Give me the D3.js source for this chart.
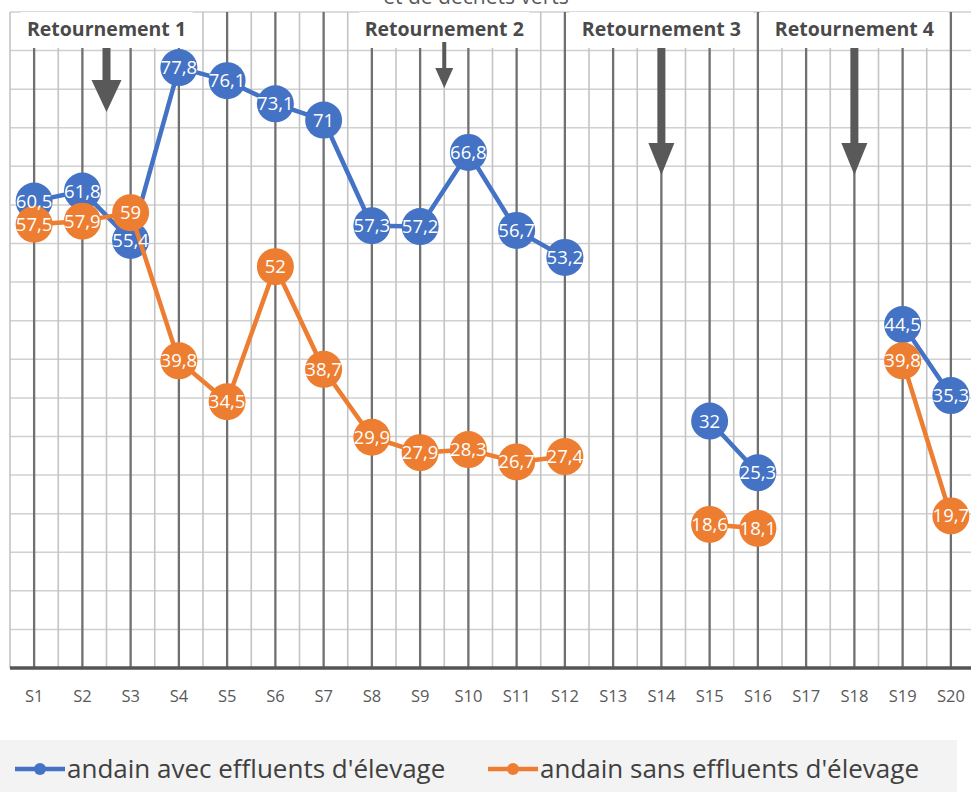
<!DOCTYPE html>
<html>
<head>
<meta charset="utf-8">
<script src="https://cdn.jsdelivr.net/npm/d3@7"></script>
<style>
  html, body { margin: 0; padding: 0; background: #ffffff; }
  svg { display: block; font-family: "Open Sans", Lato, sans-serif; }
</style>
</head>
<body>
<svg id="chart" width="971" height="792"></svg>
<script>
// Weeks of composting
const weeks = ["S1","S2","S3","S4","S5","S6","S7","S8","S9","S10",
               "S11","S12","S13","S14","S15","S16","S17","S18","S19","S20"];

// Windrow temperature series (null = no measurement)
const avecEffluents = [60.5, 61.8, 55.4, 77.8, 76.1, 73.1, 71, 57.3, 57.2, 66.8,
                       56.7, 53.2, null, null, 32, 25.3, null, null, 44.5, 35.3];
const sansEffluents = [57.5, 57.9, 59, 39.8, 34.5, 52, 38.7, 29.9, 27.9, 28.3,
                       26.7, 27.4, null, null, 18.6, 18.1, null, null, 39.8, 19.7];

const seriesNames = ["andain avec effluents d'élevage", "andain sans effluents d'élevage"];

// Turning events, expressed in weeks (2.5 = between S2 and S3)
const turnLabels = ["Retournement 1", "Retournement 2", "Retournement 3", "Retournement 4"];
const turnWeeks = [2.5, 9.5, 14, 18];

const yTicks = d3.range(0, 86, 5);

const svg = d3.select("#chart");
const W = 971, H = 792;
const plot = { left: 10, right: 975, top: 12, bottom: 668 };

const x = d3.scaleBand().domain(weeks).range([plot.left, plot.right]).padding(0);
const y = d3.scaleLinear().domain([0, 85]).range([plot.bottom, plot.top]);
const cx = w => x(w) + x.bandwidth() / 2;
// position for a fractional week number
const wx = t => plot.left + (t - 0.5) * x.bandwidth();

const blue = "#4472C4", orange = "#ED7D31";

// title (last line, partly above the frame)
svg.append("text").attr("x", 476).attr("y", 4).attr("text-anchor", "middle")
  .attr("font-size", 21).attr("fill", "#595959").text("et de déchets verts");

// horizontal gridlines
svg.append("g").selectAll("line").data(yTicks.filter(d => d > 0)).join("line")
  .attr("x1", plot.left).attr("x2", W).attr("y1", d => y(d)).attr("y2", d => y(d))
  .attr("stroke", "#d0d0d0").attr("stroke-width", 1.5);

// light vertical lines at week boundaries
svg.append("g").selectAll("line").data(d3.range(0, weeks.length + 1)).join("line")
  .attr("x1", i => plot.left + i * x.bandwidth()).attr("x2", i => plot.left + i * x.bandwidth())
  .attr("y1", plot.top).attr("y2", plot.bottom)
  .attr("stroke", "#c4c4c4").attr("stroke-width", 1.6);

// dark vertical lines at week centres
svg.append("g").selectAll("line").data(weeks).join("line")
  .attr("x1", cx).attr("x2", cx).attr("y1", plot.top).attr("y2", plot.bottom)
  .attr("stroke", "#707070").attr("stroke-width", 2.3);

// x axis
const xAxis = d3.axisBottom(x).tickSize(0).tickPadding(22);
const gx = svg.append("g").attr("transform", `translate(0,${plot.bottom})`).call(xAxis);
gx.select(".domain").attr("stroke", "#555").attr("stroke-width", 3.5)
  .attr("d", `M${plot.left},0H${W}`);
gx.selectAll("text").attr("font-size", 16.5).attr("fill", "#595959")
  .attr("font-family", "'Open Sans', sans-serif");

// turning annotation boxes
const boxW = [172, 170, 184, 188];
const arrowStyle = [
  { top: 48, tip: 112, shaft: 8, head: 30, headLen: 32 },
  { top: 42, tip: 88, shaft: 4, head: 18, headLen: 20 },
  { top: 48, tip: 175, shaft: 8, head: 26, headLen: 32 },
  { top: 48, tip: 175, shaft: 8, head: 26, headLen: 32 }
];
const ann = svg.append("g");
turnWeeks.forEach((t, i) => {
  const ax = wx(t);
  ann.append("rect").attr("x", ax - boxW[i] / 2).attr("y", 12)
    .attr("width", boxW[i]).attr("height", 36).attr("fill", "#ffffff");
  ann.append("text").attr("x", ax).attr("y", 36).attr("text-anchor", "middle")
    .attr("font-size", 19.5).attr("font-weight", 700).attr("fill", "#4a4a4a")
    .text(turnLabels[i]);
  const s = arrowStyle[i];
  const hb = s.tip - s.headLen;
  ann.append("path")
    .attr("d", `M${ax - s.shaft / 2},${s.top}H${ax + s.shaft / 2}V${hb}H${ax + s.head / 2}` +
               `L${ax},${s.tip}L${ax - s.head / 2},${hb}H${ax - s.shaft / 2}Z`)
    .attr("fill", "#595959");
});

// series
const series = [
  { name: seriesNames[0], values: avecEffluents, color: blue },
  { name: seriesNames[1], values: sansEffluents, color: orange }
];
const line = d3.line().defined(d => d.v != null).x(d => cx(d.w)).y(d => y(d.v));
const R = 18.5;

series.forEach(s => {
  const pts = weeks.map((w, i) => ({ w, v: s.values[i] }));
  const g = svg.append("g");
  g.append("path").datum(pts).attr("d", line).attr("fill", "none")
    .attr("stroke", s.color).attr("stroke-width", 4.5).attr("stroke-linejoin", "round");
  g.selectAll("circle").data(pts.filter(d => d.v != null)).join("circle")
    .attr("cx", d => cx(d.w)).attr("cy", d => y(d.v)).attr("r", R).attr("fill", s.color);
});

// data labels on top of the markers
const fmt = v => String(v).replace(".", ",");
series.forEach(s => {
  const pts = weeks.map((w, i) => ({ w, v: s.values[i] })).filter(d => d.v != null);
  svg.append("g").selectAll("text").data(pts).join("text")
    .attr("x", d => cx(d.w)).attr("y", d => y(d.v) + 6.5).attr("text-anchor", "middle")
    .attr("font-size", 18.5).attr("fill", "#ffffff").text(d => fmt(d.v));
});

// legend
const lg = svg.append("g");
lg.append("rect").attr("x", 0).attr("y", 740).attr("width", 957).attr("height", 52).attr("fill", "#f3f3f3");
const legendX = [15, 488];
series.forEach((s, i) => {
  const lx = legendX[i];
  lg.append("line").attr("x1", lx).attr("x2", lx + 50).attr("y1", 769).attr("y2", 769)
    .attr("stroke", s.color).attr("stroke-width", 4.5);
  lg.append("circle").attr("cx", lx + 25).attr("cy", 769).attr("r", 6).attr("fill", s.color);
  lg.append("text").attr("x", lx + 52).attr("y", 778).attr("font-size", 26)
    .attr("fill", "#404040").text(s.name);
});
</script>
</body>
</html>
